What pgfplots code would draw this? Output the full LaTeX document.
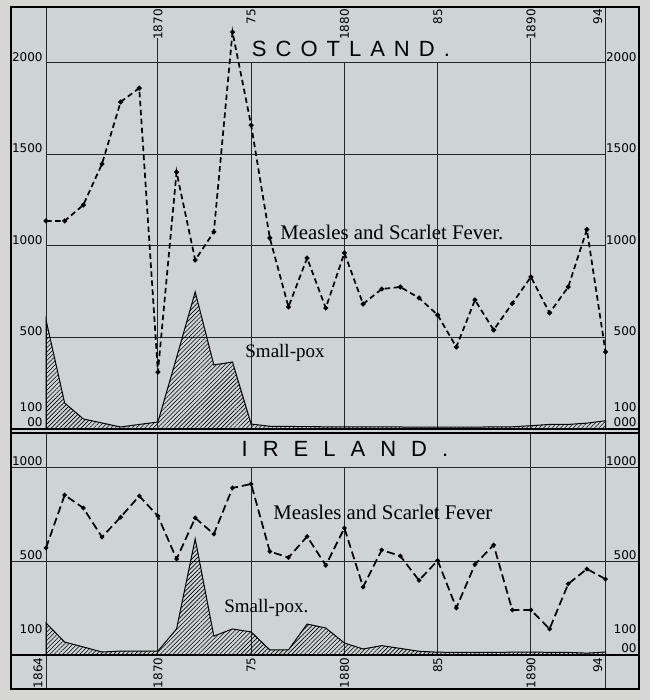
\documentclass[border=0pt]{standalone}
\usepackage{fontspec}
\setmainfont{Liberation Serif}
\newfontfamily\tickfont{DejaVu Sans}
\newfontfamily\titlefont{Liberation Sans}
\usepackage{pgfplots}
\usepackage{pgfplotstable}
\pgfplotsset{compat=1.18}
\usetikzlibrary{patterns.meta}
\definecolor{paper}{RGB}{214,215,212}
\definecolor{panel}{RGB}{206,211,212}

\pgfplotstableread{
year measles smallpox
1864 1137 596
1865 1137 142
1866 1224 55
1867 1448 33
1868 1787 11
1869 1863 25
1870 311 38
1871 1404 390
1872 923 749
1873 1077 350
1874 2169 366
1875 1660 27
1876 1044 15
1877 667 14
1878 934 13
1879 661 12
1880 962 12
1881 683 12
1882 765 11
1883 776 11
1884 716 10
1885 623 10
1886 448 10
1887 705 10
1888 541 12
1889 686 12
1890 831 18
1891 634 25
1892 776 25
1893 1090 32
1894 421 45
}\scotland

\pgfplotstableread{
year measles smallpox
1864 571 171
1865 853 69
1866 784 43
1867 629 16
1868 735 21
1869 848 21
1870 741 21
1871 512 139
1872 731 619
1873 645 101
1874 891 139
1875 912 123
1876 552 27
1877 520 27
1878 632 165
1879 478 144
1880 677 64
1881 363 32
1882 560 50
1883 528 35
1884 398 20
1885 504 15
1886 251 14
1887 483 14
1888 587 14
1889 240 15
1890 240 16
1891 139 14
1892 379 14
1893 459 10
1894 405 16
}\ireland

\tikzset{
  gridl/.style={black!85, line width=0.5pt},
  tck/.style={font=\tickfont\fontsize{6}{6}\selectfont, inner sep=0pt, text=black},
  lab/.style={font=\fontsize{10.4}{10.4}\selectfont, inner sep=0pt, text=black},
}

\begin{document}
\begin{tikzpicture}[x=1pt,y=1pt]
\path[use as bounding box, fill=paper] (0,0) rectangle (325,350);
\fill[panel] (5.5,5.5) rectangle (319.5,346.5);

% ---------------- SCOTLAND ----------------
\begin{axis}[at={(5.5pt,135.5pt)}, anchor=south west, scale only axis,
  width=314pt, height=211pt, xmin=1862.123, xmax=1895.796, ymin=0, ymax=2306,
  hide axis, clip=false]
  \pgfplotsinvokeforeach{500,1000,1500,2000}{
    \draw[gridl] (axis cs:1864,#1) -- (axis cs:1894,#1);
  }
  \draw[gridl] (axis cs:1870,0) -- (axis cs:1870,2137);
  \draw[gridl] (axis cs:1890,0) -- (axis cs:1890,2137);
  \pgfplotsinvokeforeach{1875,1880,1885}{
    \draw[gridl] (axis cs:#1,0) -- (axis cs:#1,2000);
  }
  \draw[gridl] (axis cs:1864,0) -- (axis cs:1864,2306);
  \draw[gridl] (axis cs:1894,0) -- (axis cs:1894,2306);

  \addplot[draw=black, line width=0.5pt, pattern={Lines[angle=45,distance=1.5pt,line width=0.3pt]}, pattern color=black]
    table[x=year,y=smallpox]{\scotland} \closedcycle;
  \addplot[black, line width=0.85pt, dash pattern=on 2.75pt off 1.75pt,
    mark=*, mark size=0.75pt, mark options={solid}]
    table[x=year,y=measles]{\scotland};

  \draw[black, line width=1pt] (axis cs:1862.123,0) -- (axis cs:1895.796,0);

  \node[anchor=base, font=\titlefont\fontsize{11}{11}\selectfont, inner sep=0pt]
    at (axis cs:1880.35,2033) {S\hspace{4.5pt}C\hspace{4.5pt}O\hspace{4.5pt}T\hspace{4.5pt}L\hspace{4.5pt}A\hspace{4.5pt}N\hspace{4.5pt}D\hspace{4.5pt}.};
  \node[lab, anchor=base west] at (axis cs:1876.55,1038) {Measles and Scarlet Fever.};
  \node[lab, font=\fontsize{9.5}{9.5}\selectfont, anchor=base west] at (axis cs:1874.67,388) {Small-pox};

  % left tick labels
  \node[tck, anchor=base east] at (axis cs:1863.84,2010) {2000};
  \node[tck, anchor=base east] at (axis cs:1863.84,1510) {1500};
  \node[tck, anchor=base east] at (axis cs:1863.84,1010) {1000};
  \node[tck, anchor=base east] at (axis cs:1863.84,510) {500};
  \node[tck, anchor=base east] at (axis cs:1863.84,93) {100};
  \node[tck, anchor=base east] at (axis cs:1863.84,11) {00};
  % right tick labels
  \node[tck, anchor=base east] at (axis cs:1895.69,2010) {2000};
  \node[tck, anchor=base east] at (axis cs:1895.69,1510) {1500};
  \node[tck, anchor=base east] at (axis cs:1895.69,1010) {1000};
  \node[tck, anchor=base east] at (axis cs:1895.69,510) {500};
  \node[tck, anchor=base east] at (axis cs:1895.69,98) {100};
  \node[tck, anchor=base east] at (axis cs:1895.69,11) {000};
  % top year labels
  \node[tck, rotate=90, anchor=east] at (axis cs:1870,2296) {1870};
  \node[tck, rotate=90, anchor=east] at (axis cs:1875,2296) {75};
  \node[tck, rotate=90, anchor=east] at (axis cs:1880,2296) {1880};
  \node[tck, rotate=90, anchor=east] at (axis cs:1885,2296) {85};
  \node[tck, rotate=90, anchor=east] at (axis cs:1890,2296) {1890};
  \node[tck, rotate=90, anchor=south east] at (axis cs:1893.85,2296) {94};
\end{axis}

% ---------------- IRELAND ----------------
\begin{axis}[at={(5.5pt,5.5pt)}, anchor=south west, scale only axis,
  width=314pt, height=128pt, xmin=1862.123, xmax=1895.796, ymin=-181.3, ymax=1184,
  hide axis, clip=false]
  \pgfplotsinvokeforeach{500,1000}{
    \draw[gridl] (axis cs:1862.123,#1) -- (axis cs:1895.796,#1);
  }
  \draw[gridl] (axis cs:1870,0) -- (axis cs:1870,1184);
  \draw[gridl] (axis cs:1890,0) -- (axis cs:1890,1184);
  \pgfplotsinvokeforeach{1875,1880,1885}{
    \draw[gridl] (axis cs:#1,0) -- (axis cs:#1,1000);
  }
  \draw[gridl] (axis cs:1864,-181.3) -- (axis cs:1864,1184);
  \draw[gridl] (axis cs:1894,-181.3) -- (axis cs:1894,1184);

  \addplot[draw=black, line width=0.5pt, pattern={Lines[angle=45,distance=1.5pt,line width=0.3pt]}, pattern color=black]
    table[x=year,y=smallpox]{\ireland} \closedcycle;
  \addplot[black, line width=0.85pt, dash pattern=on 4pt off 2pt,
    mark=*, mark size=0.65pt, mark options={solid}]
    table[x=year,y=measles]{\ireland};

  \draw[black, line width=0.75pt] (axis cs:1862.123,0) -- (axis cs:1895.796,0);
  \draw[black, line width=0.6pt] (axis cs:1862.123,1184) -- (axis cs:1895.796,1184);

  \node[anchor=base, font=\titlefont\fontsize{11}{11}\selectfont, inner sep=0pt]
    at (axis cs:1880.03,1056) {I\hspace{7.5pt}R\hspace{7.5pt}E\hspace{7.5pt}L\hspace{7.5pt}A\hspace{7.5pt}N\hspace{7.5pt}D\hspace{7.5pt}.};
  \node[lab, anchor=base west] at (axis cs:1876.17,725) {Measles and Scarlet Fever};
  \node[lab, font=\fontsize{9.5}{9.5}\selectfont, anchor=base west] at (axis cs:1873.54,229) {Small-pox.};

  % left tick labels
  \node[tck, anchor=base east] at (axis cs:1863.84,1008) {1000};
  \node[tck, anchor=base east] at (axis cs:1863.84,508) {500};
  \node[tck, anchor=base east] at (axis cs:1863.84,117) {100};
  % right tick labels
  \node[tck, anchor=base east] at (axis cs:1895.69,1010) {1000};
  \node[tck, anchor=base east] at (axis cs:1895.69,510) {500};
  \node[tck, anchor=base east] at (axis cs:1895.69,117) {100};
  \node[tck, anchor=base east] at (axis cs:1895.69,16) {00};
  % bottom year labels
  \node[tck, rotate=90, anchor=south east] at (axis cs:1863.84,-11) {1864};
  \node[tck, rotate=90, anchor=east] at (axis cs:1870,-11) {1870};
  \node[tck, rotate=90, anchor=east] at (axis cs:1875,-11) {75};
  \node[tck, rotate=90, anchor=east] at (axis cs:1880,-11) {1880};
  \node[tck, rotate=90, anchor=east] at (axis cs:1885,-11) {85};
  \node[tck, rotate=90, anchor=east] at (axis cs:1890,-11) {1890};
  \node[tck, rotate=90, anchor=south east] at (axis cs:1893.85,-11) {94};
\end{axis}

\draw[black, line width=0.6pt] (5.5,5.5) rectangle (319.5,346.5);
\end{tikzpicture}
\end{document}
